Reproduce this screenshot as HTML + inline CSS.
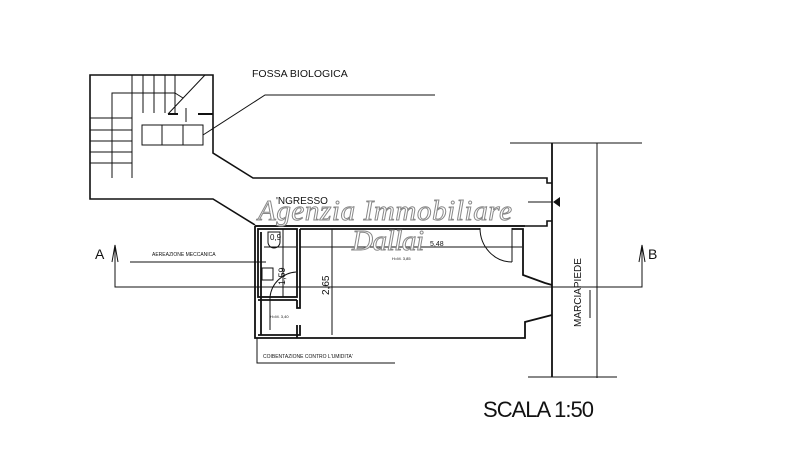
<!DOCTYPE html>
<html><head><meta charset="utf-8"><style>
html,body{margin:0;padding:0;background:#fff;}
svg{display:block;}
text{font-family:"Liberation Sans",sans-serif;fill:#111;}
.wm{font-family:"Liberation Serif",serif;font-style:italic;fill:#fff;stroke:#888;stroke-width:1;}
</style></head><body>
<svg width="799" height="461" viewBox="0 0 799 461" xmlns="http://www.w3.org/2000/svg">
<rect width="799" height="461" fill="#fff"/>
<g fill="none" stroke="#111" stroke-width="1.6">
<!-- stair block and corridor outline -->
<polyline points="213,117 213,75 90,75 90,199 213,199 255,225"/>
<polyline points="213,117 213,153 253,178 547,178 547,183 552,183"/>
<polyline points="255,226 547,226 547,221 552,221"/>
</g>
<g fill="none" stroke="#111" stroke-width="1">
<!-- stairs -->
<polyline points="112,178 112,93 175,93"/>
<line x1="132" y1="75" x2="132" y2="178"/>
<line x1="143" y1="75" x2="143" y2="113"/>
<line x1="154" y1="75" x2="154" y2="113"/>
<line x1="165" y1="75" x2="165" y2="113"/>
<line x1="175" y1="75" x2="175" y2="113"/>
<line x1="90" y1="118" x2="132" y2="118"/>
<line x1="90" y1="130" x2="132" y2="130"/>
<line x1="90" y1="141" x2="132" y2="141"/>
<line x1="90" y1="152" x2="132" y2="152"/>
<line x1="90" y1="163" x2="132" y2="163"/>
<line x1="205" y1="75" x2="168" y2="114"/>
<line x1="175" y1="93" x2="183" y2="98"/>
<line x1="168" y1="114" x2="178" y2="114" stroke-width="2"/>
<line x1="198" y1="114" x2="213" y2="114" stroke-width="2"/>
<line x1="186" y1="108" x2="186" y2="122"/>
<!-- fossa -->
<rect x="142" y="125" width="61" height="20"/>
<line x1="162" y1="125" x2="162" y2="145"/>
<line x1="183" y1="125" x2="183" y2="145"/>
<polyline points="203,135 265,95 435,95"/>
<!-- sidewalk -->
<line x1="510" y1="143" x2="642" y2="143"/>
<line x1="528" y1="377" x2="617" y2="377"/>
<line x1="597" y1="143" x2="597" y2="378"/>
<line x1="590" y1="290" x2="590" y2="318"/>
<!-- entrance arrow -->
<line x1="528" y1="202" x2="552" y2="202"/>
<!-- section line -->
<polyline points="115,245 115,287 642,287 642,245"/>
<polyline points="112,262 115,245 118,262"/>
<polyline points="639,262 642,245 645,262"/>
<!-- leaders -->
<line x1="130" y1="262" x2="266" y2="262"/>
<polyline points="257,338 257,363 395,363"/>
<!-- dimensions -->
<line x1="332" y1="229" x2="332" y2="335"/>
<line x1="300" y1="247" x2="522" y2="247"/>
<line x1="264" y1="247" x2="296" y2="247"/>
<line x1="283" y1="229" x2="283" y2="297"/>
<!-- door -->
<path d="M480,228 A32,34 0 0 0 512,262"/>
<line x1="512" y1="228" x2="512" y2="262"/>
<!-- wc -->
<rect x="262" y="268" width="11" height="12"/>
<path d="M268,232 h12 v10 a6,6 0 0 1 -12,0 z"/>
<path d="M270,297 A28,28 0 0 1 296,272"/>
<line x1="270" y1="297" x2="270" y2="330"/>
</g>
<polygon points="553,202 560,197 560,207" fill="#111"/>
<g fill="none" stroke="#111" stroke-width="1.8">
<line x1="552" y1="143" x2="552" y2="377"/>
<polyline points="552,285 545,283 523,275 523,229 512,229"/>
<line x1="480" y1="229" x2="300" y2="229"/>
<polyline points="255,226 525,226"/>
<polyline points="255,226 255,338 525,338 525,322 552,315"/>
<rect x="258" y="229" width="39" height="68"/>
<line x1="261" y1="232" x2="261" y2="335"/>
<polyline points="300,229 300,308 297,308 297,300"/>
<polyline points="258,300 297,300"/>
<polyline points="300,325 300,335 258,335"/>
<line x1="297" y1="325" x2="297" y2="338"/>
</g>
<text x="252" y="77" font-size="10.5">FOSSA  BIOLOGICA</text>
<text x="276" y="204" font-size="10">'NGRESSO</text>
<text class="wm" x="258" y="220" font-size="29" textLength="254">Agenzia Immobiliare</text>
<text class="wm" x="352" y="250" font-size="29" textLength="72">Dallai</text>
<text x="95" y="259" font-size="14">A</text>
<text x="648" y="259" font-size="14">B</text>
<text x="152" y="256" font-size="5">AEREAZIONE MECCANICA</text>
<text x="263" y="358" font-size="5">COIBENTAZIONE CONTRO L'UMIDITA'</text>
<text x="270" y="240" font-size="8">0,9</text>
<text x="392" y="260" font-size="4">H=M. 3,85</text>
<text x="270" y="318" font-size="4">H=M. 3,40</text>
<text x="430" y="246" font-size="7">5,48</text>
<text font-size="10" transform="translate(329,295) rotate(-90)">2,65</text>
<text font-size="9" transform="translate(285,285) rotate(-90)">1,59</text>
<text font-size="10" transform="translate(581,327) rotate(-90)">MARCIAPIEDE</text>
<text x="483" y="417" font-size="22" textLength="111">SCALA 1:50</text>
</svg>
</body></html>
